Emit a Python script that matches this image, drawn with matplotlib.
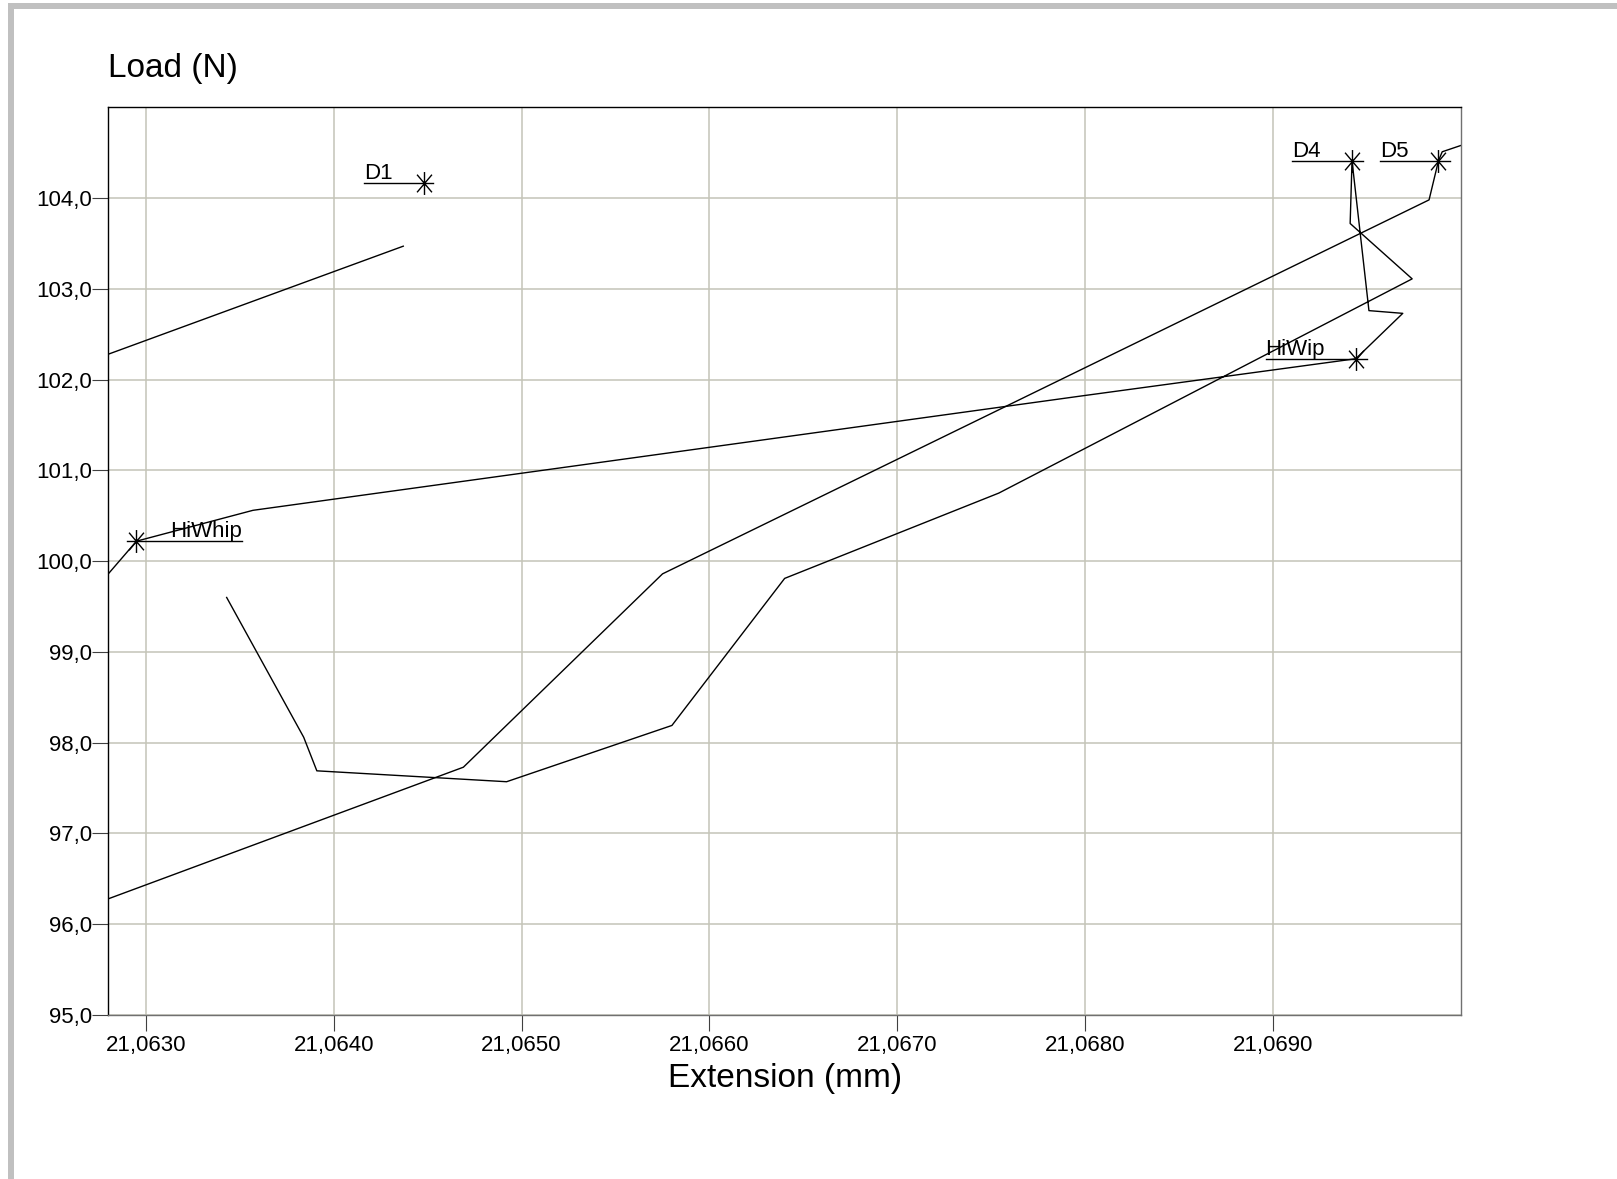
import matplotlib
matplotlib.use("Agg")
import matplotlib.pyplot as plt
from matplotlib.path import Path
from matplotlib.patches import Rectangle
from matplotlib.ticker import FuncFormatter

plt.rcParams['font.family'] = ['Liberation Sans', 'DejaVu Sans']

# short trace, top left
seg_a_x = [21.06280, 21.06437]
seg_a_y = [102.28, 103.47]

# long rising trace
seg_b_x = [21.06280, 21.06469, 21.06575, 21.06983, 21.06988, 21.06990, 21.07000]
seg_b_y = [96.28, 97.73, 99.86, 103.98, 104.41, 104.51, 104.58]

# V-shaped trace that loops back to the left
seg_c_x = [21.06343, 21.06384, 21.06391, 21.06492, 21.06580, 21.06640, 21.06754,
           21.06974, 21.06941, 21.06942, 21.06951, 21.06969, 21.06944, 21.06798,
           21.06357, 21.06295, 21.06280]
seg_c_y = [99.60, 98.06, 97.69, 97.57, 98.19, 99.81, 100.75,
           103.11, 103.72, 104.41, 102.76, 102.73, 102.23, 101.82,
           100.56, 100.22, 99.86]

# marked points
mark_names = ['D1', 'D4', 'D5', 'HiWhip', 'HiWip']
mark_x = [21.06448, 21.06942, 21.06988, 21.06295, 21.06944]
mark_y = [104.165, 104.41, 104.41, 100.22, 102.23]
# label underline extent and text start
line_x0 = [21.06416, 21.06910, 21.06957, 21.06290, 21.06896]
line_x1 = [21.06453, 21.06948, 21.06994, 21.06351, 21.06950]
text_x = [21.06416, 21.06910, 21.06957, 21.06313, 21.06896]

x_ticks = [21.063, 21.064, 21.065, 21.066, 21.067, 21.068, 21.069]
y_ticks = [95, 96, 97, 98, 99, 100, 101, 102, 103, 104]

W, H = 1617, 1179
fig = plt.figure(figsize=(W / 100, H / 100), dpi=100)
ax = fig.add_axes([108.3 / W, 1 - 1015 / H, (1461 - 108.3) / W, (1015 - 107.3) / H])

# grey page border
fig.patches.append(Rectangle((8 / W, 1 - 9 / H), 1, 6 / H, transform=fig.transFigure,
                             color='#c0c0c0', lw=0))
fig.patches.append(Rectangle((8 / W, 0), 6 / W, 1 - 3 / H, transform=fig.transFigure,
                             color='#c0c0c0', lw=0))

ax.plot(seg_a_x, seg_a_y, color='black', lw=1.0)
ax.plot(seg_b_x, seg_b_y, color='black', lw=1.0)
ax.plot(seg_c_x, seg_c_y, color='black', lw=1.0)

star = Path([(0, -1), (0, 1), (-0.65, -0.77), (0.65, 0.77), (-0.65, 0.77), (0.65, -0.77)],
            [Path.MOVETO, Path.LINETO, Path.MOVETO, Path.LINETO, Path.MOVETO, Path.LINETO])
for i, name in enumerate(mark_names):
    ax.plot([line_x0[i], line_x1[i]], [mark_y[i], mark_y[i]], color='black', lw=1.0)
    ax.plot(mark_x[i], mark_y[i], marker=star, markersize=16.5, markerfacecolor='none',
            markeredgecolor='black', markeredgewidth=1.0, ls='none')
    ax.text(text_x[i], mark_y[i] + 0.045, name, fontsize=16, va='baseline', ha='left')

ax.set_xlim(21.0628, 21.0700)
ax.set_ylim(95.0, 105.0)
ax.set_xticks(x_ticks)
ax.set_yticks(y_ticks)
ax.xaxis.set_major_formatter(FuncFormatter(lambda v, p: f"{v:.4f}".replace('.', ',')))
ax.yaxis.set_major_formatter(FuncFormatter(lambda v, p: f"{v:.1f}".replace('.', ',')))
ax.tick_params(axis='both', direction='out', length=11.5, width=0.8, color='#404040',
               labelsize=16, labelcolor='black')
ax.tick_params(axis='x', pad=3)
ax.tick_params(axis='y', pad=0)

# vertical grid line at each x tick, horizontal at each y tick (plus top edge)
ax.grid(True, color='#c4c4b8', lw=1.1)
ax.set_axisbelow(True)
ax.spines['left'].set_color('black')
ax.spines['top'].set_color('black')
ax.spines['bottom'].set_color('#707070')
ax.spines['right'].set_color('#707070')
for s in ax.spines.values():
    s.set_linewidth(1.0)

ax.set_xlabel('Extension (mm)', fontsize=24, labelpad=5)
ax.text(0, 1 + (107.3 - 76.7) / 907.7, 'Load (N)', transform=ax.transAxes,
        fontsize=24, ha='left', va='baseline')

fig.savefig('out.png', dpi=100)
